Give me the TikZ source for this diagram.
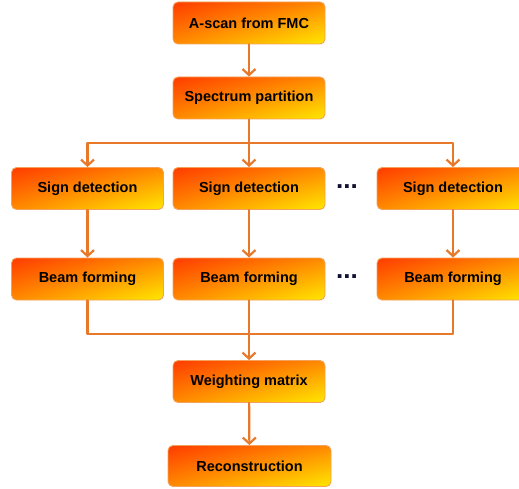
\documentclass[tikz,border=0pt]{standalone}
\usepackage{fontspec}
\setmainfont{Liberation Sans}
\usepackage{tikz}
\usetikzlibrary{arrows.meta,shadings,positioning}
\definecolor{flowline}{HTML}{E8782A}
\definecolor{boxedge}{HTML}{F2A25A}
\definecolor{hot}{HTML}{FF3C00}
\definecolor{warm}{HTML}{FF8A00}
\definecolor{sun}{HTML}{FFE800}
\definecolor{dots}{HTML}{101030}
\tikzset{
  stage/.style={
    draw=boxedge, line width=0.9pt,
    rounded corners=5pt,
    upper left=hot, upper right=warm,
    lower left=warm, lower right=sun,
    minimum width=152pt, minimum height=42pt,
    inner sep=0pt,
    font=\fontsize{14.5}{17}\selectfont\bfseries
  },
  flow/.style={
    draw=flowline, line width=2.2pt
  },
  flowarrow/.style={
    flow, -{Straight Barb[length=6pt,width=13pt,line width=2.2pt]}
  },
  gap/.style={
    text=dots, font=\fontsize{26}{26}\selectfont\bfseries
  }
}

\begin{document}
\begin{tikzpicture}[x=1pt, y=1pt, line cap=round, line join=round]
  \clip (0,0) rectangle (519,488);
  \useasboundingbox (0,0) rectangle (519,488);

  % main column
  \node[stage] (fmc)      at (249,465)   {A-scan from FMC};
  \node[stage] (spectrum) at (249,390)   {Spectrum partition};

  % parallel branches
  \node[stage] (sign1) at (87.5,299.5) {Sign detection};
  \node[stage] (sign2) at (249,299.5)  {Sign detection};
  \node[stage] (sign3) at (453,299.5)  {Sign detection};
  \node[stage] (beam1) at (87.5,209)   {Beam forming};
  \node[stage] (beam2) at (249,209)    {Beam forming};
  \node[stage] (beam3) at (453,209)    {Beam forming};

  \node[gap] (gap1) at (347,301) {...};
  \node[gap] (gap2) at (347,211) {...};

  % merge
  \node[stage] (weight) at (249,106.5) {Weighting matrix};
  \node[stage, minimum width=163pt, minimum height=41pt] (recon) at (249.5,22) {Reconstruction};

  \coordinate (split) at (249,345);
  \coordinate (merge) at (249,154);

  % connectors
  \draw[flowarrow] (fmc) -- (spectrum);
  \draw[flow] (spectrum) -- (split);
  \draw[flowarrow] (split) -| (sign1);
  \draw[flowarrow] (split) -- (sign2);
  \draw[flowarrow] (split) -| (sign3);
  \draw[flowarrow] (sign1) -- (beam1);
  \draw[flowarrow] (sign2) -- (beam2);
  \draw[flowarrow] (sign3) -- (beam3);
  \draw[flow] (beam1) |- (merge);
  \draw[flow] (beam3) |- (merge);
  \draw[flowarrow] (beam2) -- (weight);
  \draw[flowarrow] (weight) -- (recon);
\end{tikzpicture}
\end{document}
